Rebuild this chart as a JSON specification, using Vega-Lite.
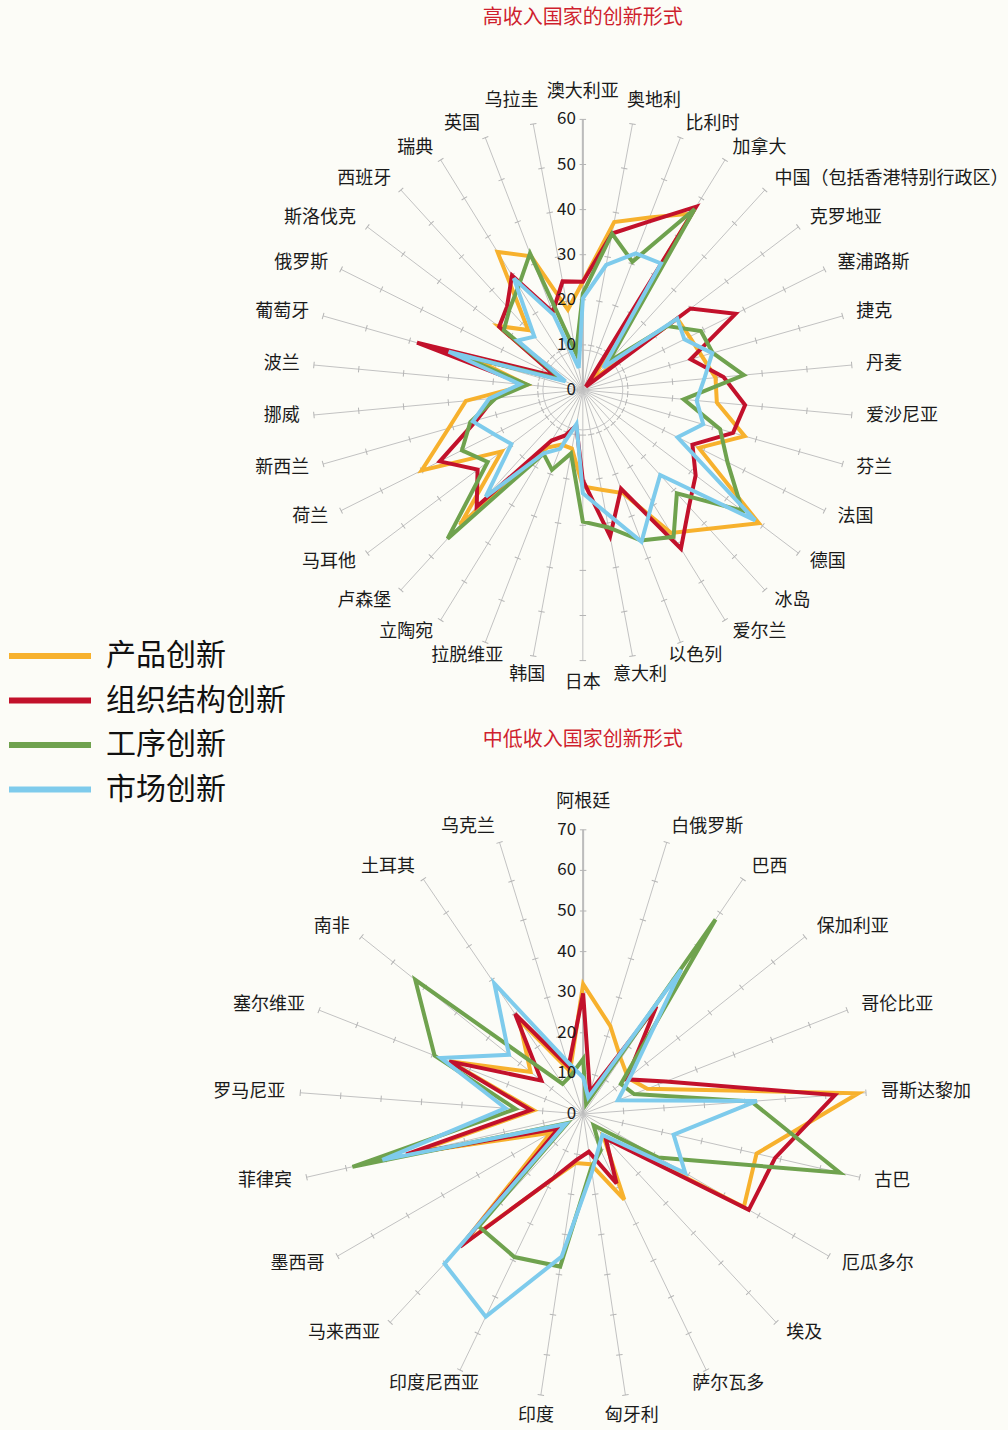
{
  "$schema": "https://vega.github.io/schema/vega-lite/v6.json",
  "width": 1008,
  "height": 1430,
  "padding": 0,
  "autosize": {"type": "fit", "contains": "padding"},
  "background": "#FCFCF7",
  "config": {"view": {"stroke": null}, "font": "Noto Sans CJK SC"},
  "datasets": {
    "rows": [
      {"chart":"top","i":0,"country":"澳大利亚","产品创新":24,"组织结构创新":24,"工序创新":21.4,"市场创新":20.3},
      {"chart":"top","i":1,"country":"奥地利","产品创新":37.9,"组织结构创新":35.3,"工序创新":35.3,"市场创新":28.2},
      {"chart":"top","i":2,"country":"比利时","产品创新":41,"组织结构创新":40,"工序创新":30.5,"市场创新":32.5},
      {"chart":"top","i":3,"country":"加拿大","产品创新":46,"组织结构创新":47.8,"工序创新":47.2,"市场创新":33},
      {"chart":"top","i":4,"country":"中国（包括香港特别行政区）","产品创新":3,"组织结构创新":1,"工序创新":8.5,"市场创新":6.7},
      {"chart":"top","i":5,"country":"克罗地亚","产品创新":26.3,"组织结构创新":30,"工序创新":23.5,"市场创新":26.3},
      {"chart":"top","i":6,"country":"塞浦路斯","产品创新":26.5,"组织结构创新":37.9,"工序创新":29.3,"市场创新":25.2},
      {"chart":"top","i":7,"country":"捷克","产品创新":27.5,"组织结构创新":24.9,"工序创新":30,"市场创新":29.9},
      {"chart":"top","i":8,"country":"丹麦","产品创新":29.6,"组织结构创新":31.4,"工序创新":35.9,"市场创新":27.1},
      {"chart":"top","i":9,"country":"爱沙尼亚","产品创新":29.9,"组织结构创新":36.2,"工序创新":22.5,"市场创新":25.4},
      {"chart":"top","i":10,"country":"芬兰","产品创新":37.4,"组织结构创新":34.7,"工序创新":31.7,"市场创新":27.8},
      {"chart":"top","i":11,"country":"法国","产品创新":28.8,"组织结构创新":27.2,"工序创新":35.9,"市场创新":23.5},
      {"chart":"top","i":12,"country":"德国","产品创新":49,"组织结构创新":31.4,"工序创新":44.4,"市场创新":48},
      {"chart":"top","i":13,"country":"冰岛","产品创新":41.6,"组织结构创新":35,"工序创新":31,"市场创新":25.5},
      {"chart":"top","i":14,"country":"爱尔兰","产品创新":37.3,"组织结构创新":41.4,"工序创新":38.3,"市场创新":29.3},
      {"chart":"top","i":15,"country":"以色列","产品创新":24.5,"组织结构创新":23.5,"工序创新":35.8,"市场创新":36.1},
      {"chart":"top","i":16,"country":"意大利","产品创新":22.5,"组织结构创新":33,"工序创新":31,"市场创新":27.6},
      {"chart":"top","i":17,"country":"日本","产品创新":21.4,"组织结构创新":20,"工序创新":29.2,"市场创新":22.9},
      {"chart":"top","i":18,"country":"韩国","产品创新":13.2,"组织结构创新":8,"工序创新":14.3,"市场创新":7.7},
      {"chart":"top","i":19,"country":"拉脱维亚","产品创新":13,"组织结构创新":10.8,"工序创新":19,"市场创新":14},
      {"chart":"top","i":20,"country":"立陶宛","产品创新":15,"组织结构创新":13.2,"工序创新":16.6,"市场创新":16.5},
      {"chart":"top","i":21,"country":"卢森堡","产品创新":40.5,"组织结构创新":35,"工序创新":44.6,"市场创新":32},
      {"chart":"top","i":22,"country":"马耳他","产品创新":22.6,"组织结构创新":29.3,"工序创新":26.5,"市场创新":19.9},
      {"chart":"top","i":23,"country":"荷兰","产品创新":40,"组织结构创新":35.5,"工序创新":30,"市场创新":22},
      {"chart":"top","i":24,"country":"新西兰","产品创新":31,"组织结构创新":24.6,"工序创新":26,"市场创新":25.4},
      {"chart":"top","i":25,"country":"挪威","产品创新":26.1,"组织结构创新":19.9,"工序创新":19.4,"市场创新":20.9},
      {"chart":"top","i":26,"country":"波兰","产品创新":12.5,"组织结构创新":12.8,"工序创新":12.4,"市场创新":14},
      {"chart":"top","i":27,"country":"葡萄牙","产品创新":25,"组织结构创新":38.3,"工序创新":29,"市场创新":31},
      {"chart":"top","i":28,"country":"俄罗斯","产品创新":6,"组织结构创新":6.7,"工序创新":5,"市场创新":4.3},
      {"chart":"top","i":29,"country":"斯洛伐克","产品创新":23.5,"组织结构创新":23.3,"工序创新":22,"市场创新":18.2},
      {"chart":"top","i":30,"country":"西班牙","产品创新":18,"组织结构创新":25,"工序创新":24.2,"市场创新":16},
      {"chart":"top","i":31,"country":"瑞典","产品创新":36,"组织结构创新":29.9,"工序创新":27.1,"市场创新":29.1},
      {"chart":"top","i":32,"country":"英国","产品创新":31.8,"组织结构创新":18.5,"工序创新":32.5,"市场创新":17.8},
      {"chart":"top","i":33,"country":"乌拉圭","产品创新":18.1,"组织结构创新":24.5,"工序创新":8.3,"市场创新":5},
      {"chart":"bottom","i":0,"country":"阿根廷","产品创新":32,"组织结构创新":29.7,"工序创新":13.6,"市场创新":9},
      {"chart":"bottom","i":1,"country":"白俄罗斯","产品创新":22.7,"组织结构创新":5.7,"工序创新":2.5,"市场创新":4.3},
      {"chart":"bottom","i":2,"country":"巴西","产品创新":16.5,"组织结构创新":32.1,"工序创新":58,"市场创新":43},
      {"chart":"bottom","i":3,"country":"保加利亚","产品创新":14.2,"组织结构创新":13.7,"工序创新":11.9,"市场创新":15},
      {"chart":"bottom","i":4,"country":"哥伦比亚","产品创新":17,"组织结构创新":21.9,"工序创新":13.5,"市场创新":9.2},
      {"chart":"bottom","i":5,"country":"哥斯达黎加","产品创新":68.1,"组织结构创新":62.3,"工序创新":41.6,"市场创新":43},
      {"chart":"bottom","i":6,"country":"古巴","产品创新":43.9,"组织结构创新":48.6,"工序创新":65,"市场创新":22.9},
      {"chart":"bottom","i":7,"country":"厄瓜多尔","产品创新":45.8,"组织结构创新":47.2,"工序创新":21.4,"市场创新":29.1},
      {"chart":"bottom","i":8,"country":"埃及","产品创新":7.3,"组织结构创新":8.2,"工序创新":3.8,"市场创新":7},
      {"chart":"bottom","i":9,"country":"萨尔瓦多","产品创新":23.4,"组织结构创新":19,"工序创新":10,"市场创新":9},
      {"chart":"bottom","i":10,"country":"匈牙利","产品创新":12.5,"组织结构创新":9.4,"工序创新":13.4,"市场创新":14.5},
      {"chart":"bottom","i":11,"country":"印度","产品创新":12.2,"组织结构创新":11.5,"工序创新":38,"市场创新":35.5},
      {"chart":"bottom","i":12,"country":"印度尼西亚","产品创新":18,"组织结构创新":17.9,"工序创新":39.1,"市场创新":55.4},
      {"chart":"bottom","i":13,"country":"马来西亚","产品创新":44,"组织结构创新":44.6,"工序创新":37.8,"市场创新":50.3},
      {"chart":"bottom","i":14,"country":"墨西哥","产品创新":9.3,"组织结构创新":7,"工序创新":4.5,"市场创新":5},
      {"chart":"bottom","i":15,"country":"菲律宾","产品创新":43,"组织结构创新":44.8,"工序创新":58.4,"市场创新":50.8},
      {"chart":"bottom","i":16,"country":"罗马尼亚","产品创新":12.2,"组织结构创新":13,"工序创新":16.7,"市场创新":19.2},
      {"chart":"bottom","i":17,"country":"塞尔维亚","产品创新":35.5,"组织结构创新":35.5,"工序创新":39.4,"市场创新":37.7},
      {"chart":"bottom","i":18,"country":"南非","产品创新":16.6,"组织结构创新":13.2,"工序创新":53,"市场创新":23.4},
      {"chart":"bottom","i":19,"country":"土耳其","产品创新":28,"组织结构创新":29.8,"工序创新":9,"市场创新":38.9},
      {"chart":"bottom","i":20,"country":"乌克兰","产品创新":11,"组织结构创新":12.2,"工序创新":10,"市场创新":13.6}
    ],
    "titles": [
      {"chart":"top","title":"高收入国家的创新形式"},
      {"chart":"bottom","title":"中低收入国家创新形式"}
    ]
  },
  "data": {"name": "rows"},
  "transform": [
    {"calculate": "datum.chart === 'top' ? 34 : 21", "as": "n"},
    {"calculate": "2*PI*datum.i/datum.n", "as": "a"},
    {"calculate": "datum.chart === 'top' ? 4.51 : 4.06", "as": "k"},
    {"calculate": "datum.chart === 'top' ? 584 : 584.3", "as": "cx"},
    {"calculate": "datum.chart === 'top' ? 390 : 1114", "as": "cy"},
    {"calculate": "datum.chart === 'top' ? 60 : 70", "as": "vmax"}
  ],
  "encoding": {
    "x": {"field": "px", "type": "quantitative", "scale": {"domain": [0, 1008], "nice": false, "zero": false}, "axis": null},
    "y": {"field": "py", "type": "quantitative", "scale": {"domain": [0, 1430], "nice": false, "zero": false, "reverse": true}, "axis": null}
  },
  "layer": [
    {
      "transform": [
        {"filter": "datum.chart === 'top' && datum.i === 0"},
        {"calculate": "datum.cx", "as": "px"},
        {"calculate": "datum.cy", "as": "py"}
      ],
      "mark": {"type": "point", "shape": "circle", "size": 6390, "filled": false, "stroke": "#c6c6c6", "strokeWidth": 1, "opacity": 1}
    },
    {
      "transform": [
        {"calculate": "datum.cx", "as": "px"},
        {"calculate": "datum.cy", "as": "py"},
        {"calculate": "datum.cx + datum.vmax*datum.k*sin(datum.a)", "as": "px2"},
        {"calculate": "datum.cy - datum.vmax*datum.k*cos(datum.a)", "as": "py2"}
      ],
      "mark": {"type": "rule", "stroke": "#c2c2c2", "strokeWidth": 1},
      "encoding": {
        "x2": {"field": "px2"},
        "y2": {"field": "py2"}
      }
    },
    {
      "transform": [
        {"filter": "datum.i === 0"},
        {"calculate": "datum.cx", "as": "px"},
        {"calculate": "datum.cy", "as": "py"},
        {"calculate": "datum.cx", "as": "px2"},
        {"calculate": "datum.cy - datum.vmax*datum.k", "as": "py2"}
      ],
      "mark": {"type": "rule", "stroke": "#bcbcbc", "strokeWidth": 2},
      "encoding": {
        "x2": {"field": "px2"},
        "y2": {"field": "py2"}
      }
    },
    {
      "transform": [
        {"calculate": "datum.chart === 'top' ? [10,20,30,40,50,60] : [10,20,30,40,50,60,70]", "as": "t"},
        {"flatten": ["t"]},
        {"calculate": "datum.cx + datum.t*datum.k*sin(datum.a)", "as": "px"},
        {"calculate": "datum.cy - datum.t*datum.k*cos(datum.a)", "as": "py"},
        {"calculate": "datum.a*180/PI", "as": "deg"}
      ],
      "mark": {"type": "point", "shape": "stroke", "size": 42, "filled": false, "stroke": "#b5b5b5", "strokeWidth": 1, "opacity": 1},
      "encoding": {
        "angle": {"field": "deg", "type": "quantitative", "scale": null}
      }
    },
    {
      "transform": [
        {"fold": ["产品创新", "组织结构创新", "工序创新", "市场创新"], "as": ["key", "value"]},
        {"calculate": "datum.cx + datum.value*datum.k*sin(datum.a)", "as": "px"},
        {"calculate": "datum.cy - datum.value*datum.k*cos(datum.a)", "as": "py"}
      ],
      "mark": {"type": "line", "interpolate": "linear-closed", "strokeWidth": 4, "strokeJoin": "miter"},
      "encoding": {
        "color": {
          "field": "key", "type": "nominal",
          "scale": {"domain": ["产品创新", "组织结构创新", "工序创新", "市场创新"], "range": ["#F7B12D", "#C2112B", "#6FA24E", "#7ECBEC"]},
          "legend": {
            "orient": "none", "legendX": 6, "legendY": 641, "title": null,
            "symbolType": "stroke", "symbolSize": 6724, "symbolStrokeWidth": 6,
            "labelFontSize": 30, "labelOffset": 12, "rowPadding": 14.5, "clipHeight": 30, "padding": 0,
            "labelFont": "Noto Sans CJK SC", "labelColor": "#111111", "labelLimit": 400
          }
        },
        "detail": {"field": "chart"},
        "order": {"field": "i", "type": "quantitative"}
      }
    },
    {
      "transform": [
        {"filter": "datum.i === 0"},
        {"calculate": "datum.chart === 'top' ? [0,10,20,30,40,50,60] : [0,10,20,30,40,50,60,70]", "as": "t"},
        {"flatten": ["t"]},
        {"calculate": "datum.cx", "as": "px"},
        {"calculate": "datum.cy - datum.t*datum.k", "as": "py"},
        {"calculate": "'' + datum.t", "as": "lab"}
      ],
      "mark": {"type": "text", "align": "right", "baseline": "middle", "dx": -7, "fontSize": 17, "color": "#1a1a1a"},
      "encoding": {"text": {"field": "lab"}}
    },
    {
      "transform": [
        {"calculate": "datum.vmax*datum.k*1.053", "as": "R"},
        {"calculate": "abs(cos(datum.a)) > 0.95 ? (abs(cos(datum.a)) - 0.95)/0.05 : 0", "as": "f"},
        {"calculate": "datum.cx + datum.R*sin(datum.a)", "as": "bx"},
        {"calculate": "datum.cy - datum.R*cos(datum.a) - (cos(datum.a) > 0 ? 13 : -8)*datum.f", "as": "py"},
        {"calculate": "cos(datum.a) < -0.9 || abs(sin(datum.a)) < 0.02 ? 'center' : (sin(datum.a) > 0 ? 'left' : 'right')", "as": "al"},
        {"calculate": "datum.al === 'center' ? datum.bx + sin(datum.a)*length(datum.country)*9 : datum.bx", "as": "px"},
        {"filter": "datum.al === 'center'"}
      ],
      "mark": {"type": "text", "align": "center", "baseline": "middle", "fontSize": 18, "color": "#1a1a1a"},
      "encoding": {"text": {"field": "country"}}
    },
    {
      "transform": [
        {"calculate": "datum.vmax*datum.k*1.053", "as": "R"},
        {"calculate": "abs(cos(datum.a)) > 0.95 ? (abs(cos(datum.a)) - 0.95)/0.05 : 0", "as": "f"},
        {"calculate": "datum.cx + datum.R*sin(datum.a) + (cos(datum.a) > 0.97 ? -8 : 0)", "as": "px"},
        {"calculate": "datum.cy - datum.R*cos(datum.a) - (cos(datum.a) > 0 ? 13 : -8)*datum.f", "as": "py"},
        {"calculate": "cos(datum.a) < -0.9 || abs(sin(datum.a)) < 0.02 ? 'center' : (sin(datum.a) > 0 ? 'left' : 'right')", "as": "al"},
        {"filter": "datum.al === 'left'"}
      ],
      "mark": {"type": "text", "align": "left", "baseline": "middle", "fontSize": 18, "color": "#1a1a1a"},
      "encoding": {"text": {"field": "country"}}
    },
    {
      "transform": [
        {"calculate": "datum.vmax*datum.k*1.053", "as": "R"},
        {"calculate": "abs(cos(datum.a)) > 0.95 ? (abs(cos(datum.a)) - 0.95)/0.05 : 0", "as": "f"},
        {"calculate": "datum.cx + datum.R*sin(datum.a) + (cos(datum.a) > 0.97 ? 8 : 0)", "as": "px"},
        {"calculate": "datum.cy - datum.R*cos(datum.a) - (cos(datum.a) > 0 ? 13 : -8)*datum.f", "as": "py"},
        {"calculate": "cos(datum.a) < -0.9 || abs(sin(datum.a)) < 0.02 ? 'center' : (sin(datum.a) > 0 ? 'left' : 'right')", "as": "al"},
        {"filter": "datum.al === 'right'"}
      ],
      "mark": {"type": "text", "align": "right", "baseline": "middle", "fontSize": 18, "color": "#1a1a1a"},
      "encoding": {"text": {"field": "country"}}
    },
    {
      "data": {"name": "titles"},
      "transform": [
        {"calculate": "584", "as": "px"},
        {"calculate": "datum.chart === 'top' ? 18 : 740", "as": "py"}
      ],
      "mark": {"type": "text", "align": "center", "baseline": "middle", "fontSize": 20, "color": "#CF1F2E"},
      "encoding": {"text": {"field": "title"}}
    }
  ]
}
